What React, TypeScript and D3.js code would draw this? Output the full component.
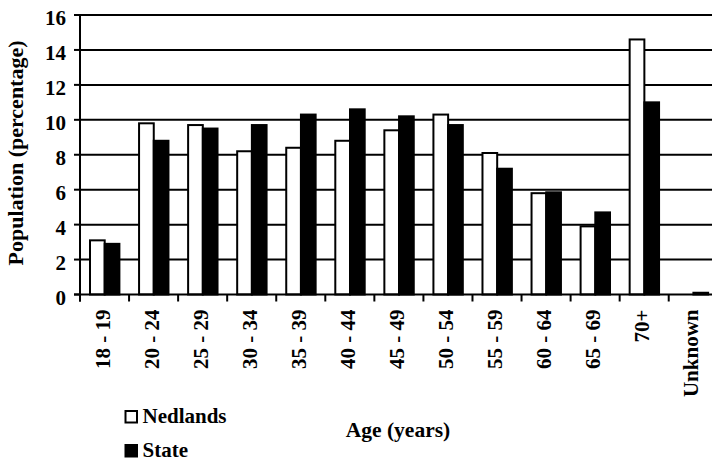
import React from "react";
import * as d3 from "d3";

const categories = ["18 - 19", "20 - 24", "25 - 29", "30 - 34", "35 - 39", "40 - 44", "45 - 49", "50 - 54", "55 - 59", "60 - 64", "65 - 69", "70+", "Unknown"];
const seriesNames = ["Nedlands", "State"];
const nedlands = [3.1, 9.8, 9.7, 8.2, 8.4, 8.8, 9.4, 10.3, 8.1, 5.8, 3.9, 14.6, 0];
const stateVals = [2.9, 8.8, 9.5, 9.7, 10.3, 10.6, 10.2, 9.7, 7.2, 5.85, 4.7, 11.0, 0.1];
const yTicks = [0, 2, 4, 6, 8, 10, 12, 14, 16];

const W = 712;
const H = 461;
const FONT = "Liberation Serif";

export default function App() {
  const left = 80;
  const step = 49.06;
  const right = left + step * categories.length;
  const x = d3.scaleBand<string>().domain(categories).range([left, right]).paddingInner(0).paddingOuter(0);
  const inner = d3.scaleBand<string>().domain(seriesNames).range([10, 39.4]).padding(0);
  const y = d3.scaleLinear().domain([0, 16]).range([294.5, 15]);
  const fills = ["#ffffff", "#000000"];
  const data = [nedlands, stateVals];

  return (
    <svg width={W} height={H} style={{ position: "absolute", left: 0, top: 0, background: "#fff" }}>
      {yTicks.filter((t) => t > 0).map((t) => (
        <line key={"g" + t} x1={left} x2={right} y1={y(t)} y2={y(t)} stroke="#000" strokeWidth={2} />
      ))}
      {categories.map((c, i) => (
        <g key={c}>
          {seriesNames.map((s, k) => {
            const v = data[k][i];
            if (v <= 0) return null;
            const bx = (x(c) as number) + (inner(s) as number);
            const bw = inner.bandwidth();
            return (
              <rect key={s} x={bx} y={y(v)} width={bw} height={y(0) - y(v)} fill={fills[k]} stroke="#000" strokeWidth={2} />
            );
          })}
        </g>
      ))}
      <line x1={left} x2={left} y1={y(16) - 1} y2={y(0) + 7} stroke="#000" strokeWidth={2} />
      {yTicks.map((t) => (
        <g key={"yt" + t}>
          <line x1={left - 6} x2={left} y1={y(t)} y2={y(t)} stroke="#000" strokeWidth={2} />
          <text x={66} y={y(t) + 10} textAnchor="end" fontSize={21} fontFamily={FONT} fontWeight="bold">{t}</text>
        </g>
      ))}
      <line x1={left - 6} x2={right} y1={y(0)} y2={y(0)} stroke="#000" strokeWidth={2} />
      {d3.range(categories.length + 1).map((i) => (
        <line key={"xt" + i} x1={left + i * step} x2={left + i * step} y1={y(0)} y2={y(0) + 7} stroke="#000" strokeWidth={2} />
      ))}
      {categories.map((c) => {
        const cx = (x(c) as number) + x.bandwidth() / 2 + 5;
        return (
          <text key={"xl" + c} transform={`translate(${cx},309.5) rotate(-90)`} textAnchor="end" fontSize={21} fontFamily={FONT} fontWeight="bold">{c}</text>
        );
      })}
      <text transform={`translate(22.5,153) rotate(-90)`} textAnchor="middle" fontSize={22} fontFamily={FONT} fontWeight="bold">Population (percentage)</text>
      <text x={398} y={437} textAnchor="middle" fontSize={21.5} fontFamily={FONT} fontWeight="bold">Age (years)</text>
      {seriesNames.map((s, k) => (
        <g key={"lg" + s}>
          <rect x={125.5} y={411 + k * 34} width={11.5} height={11.5} fill={fills[k]} stroke="#000" strokeWidth={2} />
          <text x={142.5} y={423 + k * 34} fontSize={21} fontFamily={FONT} fontWeight="bold">{s}</text>
        </g>
      ))}
    </svg>
  );
}
